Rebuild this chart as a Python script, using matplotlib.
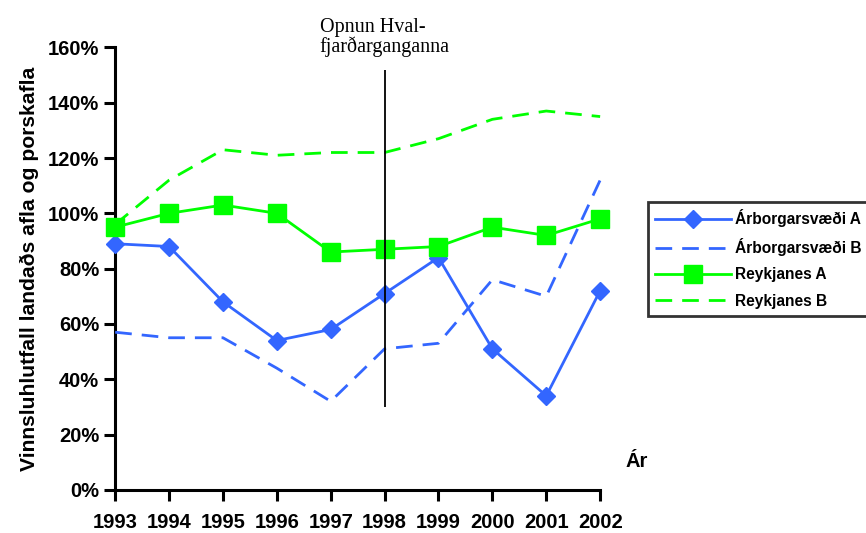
import matplotlib
matplotlib.use("Agg")
import matplotlib.pyplot as plt
from matplotlib.ticker import FuncFormatter

years = [1993, 1994, 1995, 1996, 1997, 1998, 1999, 2000, 2001, 2002]
arborg_a = [89, 88, 68, 54, 58, 71, 84, 51, 34, 72]
arborg_b = [57, 55, 55, 44, 32, 51, 53, 76, 70, 112]
reykjanes_a = [95, 100, 103, 100, 86, 87, 88, 95, 92, 98]
reykjanes_b = [96, 112, 123, 121, 122, 122, 127, 134, 137, 135]
event_year = 1998
event_range = [30, 152]
event_label = "Opnun Hval-\nfjarðarganganna"
yticks = [0, 20, 40, 60, 80, 100, 120, 140, 160]

blue = "#3366FF"
green = "#00FF00"

plt.rcParams['font.family'] = ['Liberation Sans', 'DejaVu Sans']
fig = plt.figure(figsize=(8.66, 5.33), dpi=100)
ax = fig.add_axes([0.133, 0.081, 0.560, 0.830])

dash = (0, (6, 3.6))
ax.plot(years, arborg_a, color=blue, lw=2, marker='D', ms=9.5, label='Árborgarsvæði A', clip_on=False, zorder=4)
ax.plot(years, arborg_b, color=blue, lw=2, ls=dash, label='Árborgarsvæði B', clip_on=False, zorder=3)
ax.plot(years, reykjanes_a, color=green, lw=2, marker='s', ms=12.5, label='Reykjanes A', clip_on=False, zorder=4)
ax.plot(years, reykjanes_b, color=green, lw=2, ls=dash, label='Reykjanes B', clip_on=False, zorder=3)

ax.vlines(event_year, event_range[0], event_range[1], color='black', lw=1.3, zorder=5)
ax.text(event_year, 156.5, event_label, family=['Liberation Serif', 'DejaVu Serif'],
        fontsize=14.5, ha='center', va='bottom', multialignment='left', linespacing=0.95)

ax.set_xlim(years[0], years[-1])
ax.set_ylim(0, 160)
ax.set_xticks(years)
ax.set_yticks(yticks)
ax.yaxis.set_major_formatter(FuncFormatter(lambda v, p: f"{int(v)}%"))
for s in ['top', 'right']:
    ax.spines[s].set_visible(False)
for s in ['left', 'bottom']:
    ax.spines[s].set_linewidth(2.2)
ax.tick_params(axis='both', width=2.2, length=8, labelsize=14.5)
ax.tick_params(axis='x', pad=9)
for lbl in ax.get_xticklabels() + ax.get_yticklabels():
    lbl.set_fontweight('bold')

ax.set_ylabel("Vinnsluhlutfall landaðs afla og porskafla", fontsize=15.2, fontweight='bold', labelpad=6)
fig.text(0.722, 0.117, "Ár", fontsize=14.5, fontweight='bold', ha='left', va='bottom')

leg = fig.legend(loc='upper left', bbox_to_anchor=(0.7485, 0.621), frameon=True, fancybox=False,
                 edgecolor='black', prop={'weight': 'bold', 'size': 11.2},
                 handlelength=4.9, borderpad=0.45, labelspacing=0.72, handletextpad=0.25,
                 borderaxespad=0)
leg.get_frame().set_linewidth(2)

fig.savefig("out.png", dpi=100)
